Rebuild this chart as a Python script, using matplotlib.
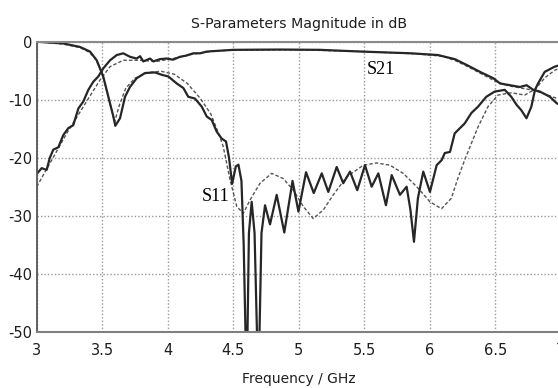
import matplotlib.pyplot as plt

# S11 measured (solid)
s11_meas_f = [3.00, 3.203, 3.33, 3.407, 3.458, 3.483, 3.508, 3.547, 3.585, 3.60, 3.636, 3.674,
              3.712, 3.763, 3.827, 3.903, 3.954, 4.005, 4.069, 4.12, 4.157, 4.208, 4.26, 4.298,
              4.336, 4.374, 4.412, 4.445, 4.468, 4.492, 4.52, 4.54, 4.563, 4.58, 4.603, 4.62,
              4.641, 4.663, 4.692, 4.716, 4.743, 4.781, 4.832, 4.89, 4.953, 4.998, 5.056, 5.115,
              5.176, 5.226, 5.29, 5.34, 5.392, 5.447, 5.506, 5.557, 5.608, 5.666, 5.71, 5.773,
              5.824, 5.853, 5.88, 5.91, 5.951, 6.002, 6.053, 6.092, 6.115, 6.155, 6.191, 6.267,
              6.318, 6.369, 6.432, 6.496, 6.573, 6.623, 6.664, 6.699, 6.739, 6.776, 6.804, 6.827,
              6.878, 6.954, 7.0]
s11_meas_db = [0, -0.3, -0.9, -1.7, -3.2, -4.6, -6.0, -9.5, -12.9, -14.5, -13.2, -9.5,
               -7.8, -6.3, -5.4, -5.3, -5.7, -6.0, -7.2, -8.0, -9.5, -9.8, -11.2, -12.9,
               -13.5, -15.5, -16.7, -17.2, -20, -24.5, -21.5, -21.2, -24, -35, -60, -33,
               -27.6, -33, -60, -33, -28.2, -31.5, -26.4, -32.9, -24.0, -29.3, -22.5, -26.1,
               -22.7, -25.9, -21.6, -24.4, -22.4, -25.6, -21.3, -25.0, -22.7, -28.2, -23.0, -26.4,
               -25.0, -29, -34.5, -27, -22.4, -25.9, -21.3, -20.4, -19.2, -19.0, -15.8, -14.1,
               -12.3, -11.2, -9.5, -8.6, -8.3, -9.5, -10.9, -11.8, -13.2, -11.2, -8.3, -7.2,
               -5.2, -4.3, -4.0]

# S11 simulated (dashed)
s11_sim_f = [3.00, 3.2, 3.33, 3.4, 3.45, 3.5, 3.54, 3.595, 3.63, 3.68, 3.75, 3.85, 3.95, 4.05,
             4.15, 4.25, 4.33, 4.40, 4.424, 4.476, 4.527, 4.577, 4.628, 4.705, 4.794, 4.882,
             4.959, 5.035, 5.111, 5.188, 5.264, 5.366, 5.493, 5.595, 5.697, 5.798, 5.901, 6.002,
             6.09, 6.165, 6.216, 6.267, 6.369, 6.445, 6.521, 6.623, 6.725, 6.804, 6.88, 6.956, 7.0]
s11_sim_db = [0, -0.4, -1.0, -1.8, -3.0, -5.5, -9, -13.8, -11, -8, -6.3, -5.3, -5.1, -5.6,
              -7.2, -9.8, -12.5, -16.5, -18.1, -23.8, -28.4, -29.6, -27.3, -24.4, -22.7, -23.6,
              -25.6, -28.4, -30.5, -29.0, -26.4, -23.3, -21.3, -20.9, -21.3, -22.7, -25.0, -27.6,
              -28.8, -27.0, -23.5, -20.4, -14.7, -11.2, -9.2, -8.8, -9.2, -8.2, -6.2, -4.9, -4.5]

# S21 measured (solid)
s21_meas_f = [3.00, 3.038, 3.076, 3.10, 3.127, 3.165, 3.203, 3.241, 3.279, 3.318, 3.356, 3.394,
              3.432, 3.47, 3.508, 3.56, 3.611, 3.661, 3.712, 3.763, 3.789, 3.814, 3.865, 3.89,
              3.941, 3.992, 4.04, 4.094, 4.14, 4.195, 4.247, 4.298, 4.399, 4.501, 4.857, 5.16,
              5.478, 5.86, 6.063, 6.191, 6.282, 6.384, 6.486, 6.537, 6.613, 6.689, 6.74, 6.791,
              6.842, 6.918, 6.969, 7.0]
s21_meas_db = [-22.8, -21.8, -22.1, -20, -18.6, -18.2, -16.1, -14.9, -14.4, -11.5, -10.3, -8.3,
               -6.9, -6.0, -4.6, -3.2, -2.3, -2.0, -2.6, -2.9, -2.5, -3.4, -2.9, -3.4,
               -3.0, -2.9, -3.1, -2.6, -2.4, -2.0, -2.0, -1.7, -1.55, -1.4, -1.35, -1.4,
               -1.7, -2.0, -2.3, -3.0, -4.0, -5.2, -6.3, -7.2, -7.5, -7.8, -7.5, -8.3,
               -8.6, -9.5, -10.6, -11]

# S21 simulated (dashed)
s21_sim_f = [3.00, 3.10, 3.229, 3.356, 3.483, 3.56, 3.661, 3.789, 3.916, 4.043, 4.2, 4.35, 4.5,
             5.0, 5.5, 5.9, 6.1, 6.2, 6.3, 6.4, 6.5, 6.6, 6.7, 6.8, 6.9, 7.0]
s21_sim_db = [-25.0, -21.0, -15.8, -11.2, -6.6, -4.3, -3.2, -3.2, -3.4, -2.9, -2.1, -1.6, -1.45,
              -1.4, -1.7, -2.1, -2.5, -3.3, -4.4, -5.6, -6.8, -7.6, -8.0, -8.4, -9.2, -10.0]

x_ticks = [3, 3.5, 4, 4.5, 5, 5.5, 6, 6.5, 7]
x_labels = ["3", "3.5", "4", "4.5", "5", "5.5", "6", "6.5", "7"]
y_ticks = [0, -10, -20, -30, -40, -50]

# plain hyphen like the original tick labels
plt.rcParams["axes.unicode_minus"] = False
plt.rcParams["font.family"] = ["DejaVu Sans"]

fig = plt.figure(figsize=(5.58, 3.88), dpi=100)
ax = fig.add_axes([0.0658, 0.1451, 0.939, 0.7474])

solid = "#262626"
dashed = "#555555"
ax.plot(s21_sim_f, s21_sim_db, color=dashed, lw=1.0, ls=(0, (2.5, 1.5)))
ax.plot(s11_sim_f, s11_sim_db, color=dashed, lw=1.0, ls=(0, (2.5, 1.5)))
ax.plot(s21_meas_f, s21_meas_db, color=solid, lw=1.6)
ax.plot(s11_meas_f, s11_meas_db, color=solid, lw=1.6)

ax.set_xlim(3, 7)
ax.set_ylim(-50, 0)
ax.set_xticks(x_ticks)
ax.set_xticklabels(x_labels)
ax.set_yticks(y_ticks)
ax.tick_params(length=0, labelsize=10.5, labelcolor="#1e1e1e")
ax.tick_params(axis="x", pad=8)
ax.tick_params(axis="y", pad=3)

ax.grid(True, color="#9a9a9a", ls=(0, (1, 1.5)), lw=1.0)
ax.spines["left"].set_color("#555555")
ax.spines["left"].set_linewidth(1.3)
ax.spines["bottom"].set_color("#808080")
ax.spines["bottom"].set_linewidth(1.5)
ax.spines["top"].set_color("#8a8a8a")
ax.spines["top"].set_linewidth(1.5)
ax.spines["right"].set_visible(False)

ax.set_title("S-Parameters Magnitude in dB", fontsize=10.2, pad=10, color="#1e1e1e")
fig.text(0.5353, 1 - 383 / 388, "Frequency / GHz", fontsize=10, ha="center", va="baseline",
         color="#1e1e1e")

# curve labels
ax.text(5.63, -4.8, "S21", family="Liberation Serif", fontsize=13, ha="center", va="center")
ax.text(4.367, -26.7, "S11", family="Liberation Serif", fontsize=13, ha="center", va="center")

fig.savefig("out.png", dpi=100)
